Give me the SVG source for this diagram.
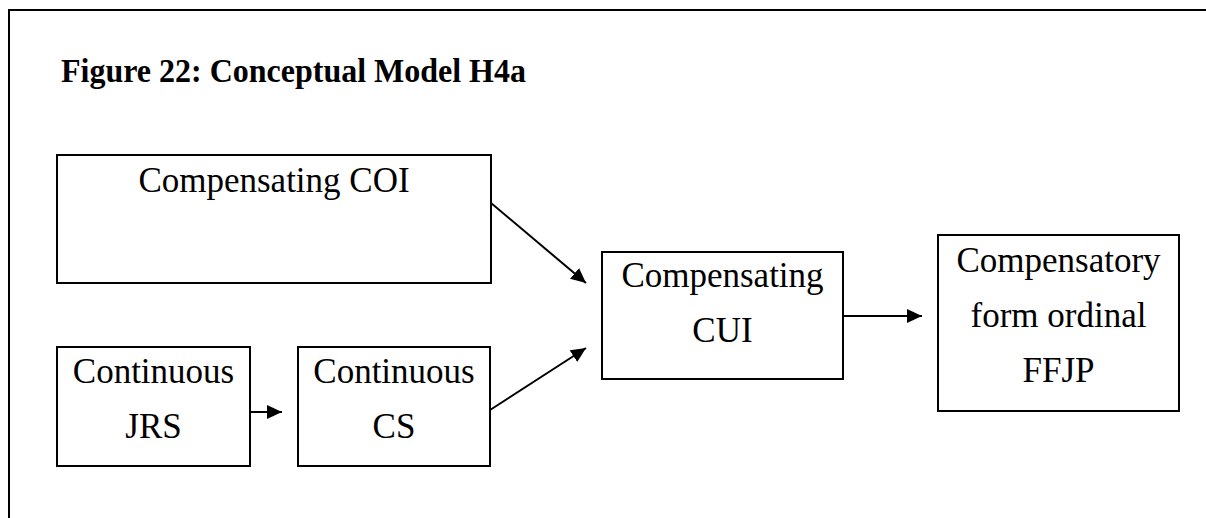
<svg xmlns="http://www.w3.org/2000/svg" width="1206" height="518" viewBox="0 0 1206 518">
<defs>
<style>
.box{fill:#fff;stroke:#000;stroke-width:2}
.lbl{font-family:"Liberation Serif","Times New Roman",serif;font-size:35px;fill:#000;text-anchor:middle}
.title{font-family:"Liberation Serif","Times New Roman",serif;font-size:33px;font-weight:bold;fill:#000}
.conn{stroke:#000;stroke-width:2;fill:none;marker-end:url(#ah)}
</style>
<marker id="ah" markerUnits="userSpaceOnUse" markerWidth="16" markerHeight="15" refX="15" refY="7" orient="auto">
<path d="M0,0 L15,7 L0,14 Z" fill="#000"/>
</marker>
</defs>
<rect width="1206" height="518" fill="#fff"/>
<path d="M9,518 L9,10 L1206,10" fill="none" stroke="#000" stroke-width="2"/>
<text class="title" x="61" y="82" textLength="465" lengthAdjust="spacingAndGlyphs">Figure 22: Conceptual Model H4a</text>
<g id="node-coi">
<rect class="box" x="57" y="155" width="434" height="128"/>
<text class="lbl" x="274" y="192">Compensating COI</text>
</g>
<g id="node-jrs">
<rect class="box" x="57" y="347" width="193" height="119"/>
<text class="lbl" x="153.5" y="383">Continuous</text>
<text class="lbl" x="153.5" y="438">JRS</text>
</g>
<g id="node-cs">
<rect class="box" x="298" y="347" width="192" height="119"/>
<text class="lbl" x="394" y="383">Continuous</text>
<text class="lbl" x="394" y="438">CS</text>
</g>
<g id="node-cui">
<rect class="box" x="602" y="252" width="241" height="127"/>
<text class="lbl" x="722.5" y="287">Compensating</text>
<text class="lbl" x="722.5" y="342">CUI</text>
</g>
<g id="node-ffjp">
<rect class="box" x="938" y="235" width="241" height="176"/>
<text class="lbl" x="1058.5" y="272">Compensatory</text>
<text class="lbl" x="1058.5" y="327">form ordinal</text>
<text class="lbl" x="1058.5" y="382">FFJP</text>
</g>
<g id="connectors">
<line class="conn" x1="491" y1="203" x2="586" y2="283"/>
<line class="conn" x1="490" y1="410" x2="586" y2="348"/>
<line class="conn" x1="843" y1="316" x2="922" y2="316"/>
<line class="conn" x1="250" y1="412" x2="282" y2="412"/>
</g>
</svg>
